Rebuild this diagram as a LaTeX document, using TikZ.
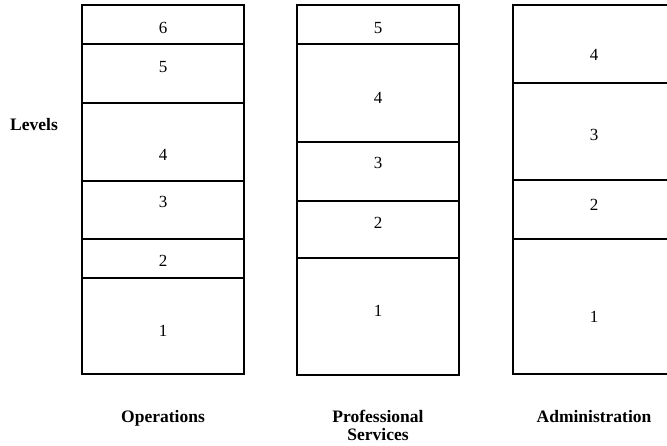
\documentclass[tikz,border=0pt]{standalone}
\usepackage{fontspec}
\setmainfont{Liberation Serif}

\begin{document}
\begin{tikzpicture}[x=1pt,y=-1pt,line width=1.1pt,
   lvl/.style={font=\fontsize{17}{17}\selectfont},
   dept/.style={font=\bfseries\fontsize{17.5}{18}\selectfont,align=center}]
   \useasboundingbox (0,0) rectangle (667,446);
   \clip (0,0) rectangle (667,446);
   % Operations
   \draw (82,5) rectangle (244,374);
   \foreach \y in {44,103,181,239,278} \draw (82,\y) -- (244,\y);
   % Professional Services
   \draw (297,5) rectangle (459,375);
   \foreach \y in {44,142,201,258} \draw (297,\y) -- (459,\y);
   % Administration
   \draw (513,5) rectangle (675,374);
   \foreach \y in {83,180,239} \draw (513,\y) -- (675,\y);
   % level numbers
   \node[lvl] (op6) at (163,28)  {6};
   \node[lvl] (op5) at (163,67)  {5};
   \node[lvl] (op4) at (163,155) {4};
   \node[lvl] (op3) at (163,202) {3};
   \node[lvl] (op2) at (163,261) {2};
   \node[lvl] (op1) at (163,331) {1};
   \node[lvl] (ps5) at (378,28)  {5};
   \node[lvl] (ps4) at (378,98)  {4};
   \node[lvl] (ps3) at (378,163) {3};
   \node[lvl] (ps2) at (378,223) {2};
   \node[lvl] (ps1) at (378,311) {1};
   \node[lvl] (ad4) at (594,55)  {4};
   \node[lvl] (ad3) at (594,135) {3};
   \node[lvl] (ad2) at (594,205) {2};
   \node[lvl] (ad1) at (594,317) {1};
   % captions
   \node[dept] (levels) at (34,125) {Levels};
   \node[dept,anchor=north] (ops) at (163,406) {Operations};
   \node[dept,anchor=north] (prof) at (378,406) {Professional\\Services};
   \node[dept,anchor=north] (admin) at (594,406) {Administration};
\end{tikzpicture}
\end{document}
